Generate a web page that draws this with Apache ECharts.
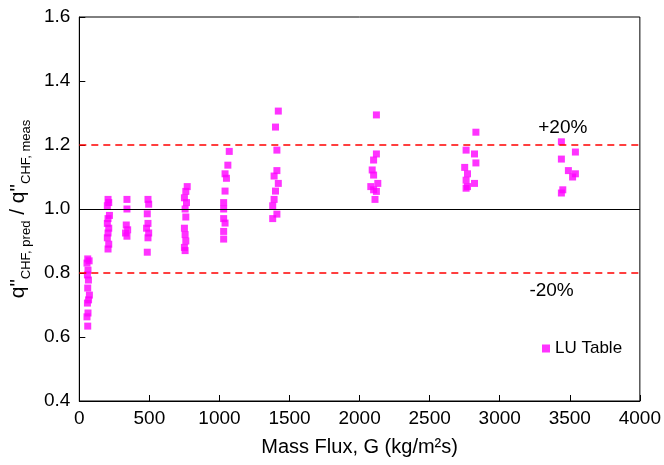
<!DOCTYPE html>
<html>
<head>
<meta charset="utf-8">
<script src="https://cdn.jsdelivr.net/npm/echarts@6/dist/echarts.min.js"></script>
<style>
  html, body { margin: 0; padding: 0; background: #fff; }
  #chart { width: 664px; height: 465px; }
</style>
</head>
<body>
<div id="chart"></div>
<script>
// mass flux G (kg/m2s) and predicted/measured CHF ratio, point by point
var massFlux = [
    60, 70, 55, 62, 58, 65, 60, 72, 66, 58, 62, 55, 60,
    205, 210, 200, 215, 205, 200, 210, 205, 200, 210, 205,
    340, 340, 335, 345, 330, 340,
    490, 495, 485, 490, 480, 495, 490, 485,
    770, 760, 750, 765, 755, 760, 750, 755, 760, 750, 755,
    1070, 1060, 1040, 1050, 1040, 1030, 1030, 1030, 1040, 1030, 1030,
    1420, 1400, 1410, 1410, 1390, 1420, 1400, 1390, 1380, 1410, 1380,
    2120, 2120, 2100, 2090, 2100, 2130, 2080, 2100, 2120, 2110,
    2830, 2760, 2820, 2830, 2750, 2770, 2760, 2820, 2770, 2760,
    3440, 3540, 3440, 3490, 3540, 3520, 3450, 3440
];
var ratio = [
    0.844, 0.838, 0.831, 0.809, 0.794, 0.778, 0.753, 0.731, 0.716, 0.706, 0.675, 0.663, 0.634,
    1.03, 1.02, 1.01, 0.98, 0.97, 0.955, 0.94, 0.925, 0.91, 0.89, 0.875,
    1.03, 1.0, 0.95, 0.935, 0.925, 0.915,
    1.03, 1.015, 0.985, 0.955, 0.94, 0.925, 0.91, 0.865,
    1.07, 1.055, 1.035, 1.02, 1.0, 0.975, 0.94, 0.92, 0.9, 0.88, 0.87,
    1.18, 1.137, 1.11, 1.096, 1.056, 1.02, 1.0, 0.97, 0.956, 0.93, 0.906,
    1.306, 1.256, 1.184, 1.12, 1.103, 1.08, 1.056, 1.03, 1.01, 0.984, 0.97,
    1.294, 1.172, 1.153, 1.122, 1.106, 1.08, 1.07, 1.06, 1.055, 1.03,
    1.24, 1.184, 1.172, 1.144, 1.13, 1.11, 1.09, 1.08, 1.07, 1.065,
    1.21, 1.178, 1.156, 1.12, 1.11, 1.10, 1.06, 1.05
];
var limitLines = [1.2, 0.8];
var limitLabels = ['+20%', '-20%'];

var points = massFlux.map(function(g, i) {
    return [g, ratio[i]];
});

var font = 'Liberation Sans, Arial, Helvetica, sans-serif';
var chart = echarts.init(document.getElementById('chart'));

var option = {
    animation: false,
    grid: {
        left: 78,
        right: 22,
        top: 17,
        bottom: 64,
        show: true,
        borderColor: '#000',
        borderWidth: 1
    },
    legend: {
        data: ['LU Table'],
        left: 537,
        top: 335,
        icon: 'rect',
        itemWidth: 8,
        itemHeight: 8,
        itemGap: 6,
        textStyle: { fontFamily: font, fontSize: 17, color: '#000' }
    },
    xAxis: {
        type: 'value',
        min: 0,
        max: 4000,
        interval: 500,
        name: 'Mass Flux, G (kg/m\u00b2s)',
        nameLocation: 'middle',
        nameGap: 36,
        nameTextStyle: { fontFamily: font, fontSize: 20, color: '#000' },
        axisLine: { lineStyle: { color: '#000' } },
        axisTick: { inside: true, length: 6, lineStyle: { color: '#000' } },
        axisLabel: {
            fontFamily: font, fontSize: 19, color: '#000', margin: 8,
            formatter: function(v) { return String(v); }
        },
        splitLine: { show: false }
    },
    yAxis: {
        type: 'value',
        min: 0.4,
        max: 1.6,
        interval: 0.2,
        name: '{m|q"}{s|CHF, pred}{m| / q"}{s|CHF, meas}',
        nameLocation: 'middle',
        nameRotate: 90,
        nameGap: 40,
        nameTextStyle: {
            fontFamily: font,
            color: '#000',
            rich: {
                m: { fontFamily: font, fontSize: 21, color: '#000', verticalAlign: 'bottom' },
                s: { fontFamily: font, fontSize: 13, color: '#000', verticalAlign: 'bottom', padding: [0, 0, -4, 0] }
            }
        },
        axisLine: { show: true, lineStyle: { color: '#000' } },
        axisTick: { show: true, inside: true, length: 6, lineStyle: { color: '#000' } },
        axisLabel: {
            fontFamily: font, fontSize: 19, color: '#000', margin: 9,
            formatter: function(v) { return v.toFixed(1); }
        },
        splitLine: { show: false }
    },
    series: [{
        name: 'LU Table',
        type: 'scatter',
        symbol: 'rect',
        symbolSize: 7,
        itemStyle: { color: '#ff00ff' },
        data: points,
        markLine: {
            silent: true,
            symbol: 'none',
            label: { show: false },
            data: [
                { yAxis: limitLines[0], lineStyle: { color: '#ff0000', type: [7, 5], width: 1.5 } },
                { yAxis: limitLines[1], lineStyle: { color: '#ff0000', type: [7, 5], width: 1.5 } },
                { yAxis: 1.0, lineStyle: { color: '#000', type: 'solid', width: 1.2 } }
            ]
        },
        markPoint: {
            silent: true,
            symbolSize: 0,
            label: { show: true, fontFamily: font, fontSize: 19, color: '#000', formatter: '{b}' },
            data: [
                { name: limitLabels[0], coord: [3450, 1.255] },
                { name: limitLabels[1], coord: [3370, 0.745] }
            ]
        }
    }]
};

chart.setOption(option);
</script>
</body>
</html>
